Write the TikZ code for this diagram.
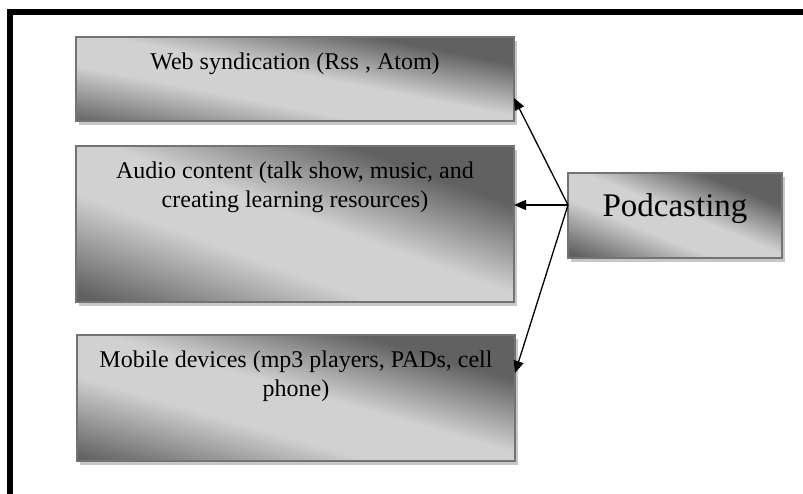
\documentclass[tikz,border=0pt]{standalone}
\usepackage{fontspec}
\setmainfont{Liberation Serif}
\usetikzlibrary{arrows.meta,backgrounds}
\pgfdeclareverticalshading{panelshade}{100bp}{color(0bp)=(black!62); color(20bp)=(black!62);
  color(40bp)=(black!18); color(52bp)=(black!18); color(70bp)=(black!62); color(100bp)=(black!62)}

\begin{document}
\begin{tikzpicture}
[x = 1pt, y = -1pt,
 panel/.style = {draw = black!55, line width = 1.2pt, outer sep = 0pt,
   shade, shading = panelshade, shading angle = #1},
 lbl/.style = {anchor = north, yshift = -16pt, inner sep = 0pt, align = center,
   font = \fontsize{24}{29}\selectfont},
 shadow/.style = {fill = black!22},
 link/.style = {line width = 1.3pt, -{Triangle[length = 12pt, width = 10pt]}}
 ]
\useasboundingbox (0,0) rectangle (803,494);
\draw [line width = 6pt] (10,494) -- (10,12) -- (803,12);
\node [panel = -11, minimum width = 438pt, minimum height = 84pt, anchor = north west,
  label = {[lbl]north:Web syndication (Rss , Atom)}] (web) at (76,37) {};
\node [panel = -20, minimum width = 438pt, minimum height = 156pt, anchor = north west,
  label = {[lbl]north:Audio content (talk show, music, and\\creating learning resources)}] (audio) at (76,146) {};
\node [panel = -16, minimum width = 438pt, minimum height = 126pt, anchor = north west,
  label = {[lbl]north:Mobile devices (mp3 players, PADs, cell\\phone)}] (mobile) at (77,335) {};
\node [panel = -22, minimum width = 214pt, minimum height = 85pt, anchor = north west,
  text height = 23pt, text depth = 20pt, font = \fontsize{33}{40}\selectfont] (pod) at (568,173) {Podcasting};
\begin{scope}[on background layer]
\foreach \n in {web,audio,mobile,pod}
  \fill [shadow] ([shift = {(3pt,-4pt)}] \n.south west) rectangle ([shift = {(3pt,-4pt)}] \n.north east);
\end{scope}
\coordinate (hub) at ([yshift = 10.5pt] pod.west);
\draw [link] (hub) -- ([yshift = -19pt] web.east);
\draw [link] (hub) -- (audio.east |- hub);
\draw [link] (hub) -- ([yshift = 25pt] mobile.east);
\end{tikzpicture}
\end{document}
